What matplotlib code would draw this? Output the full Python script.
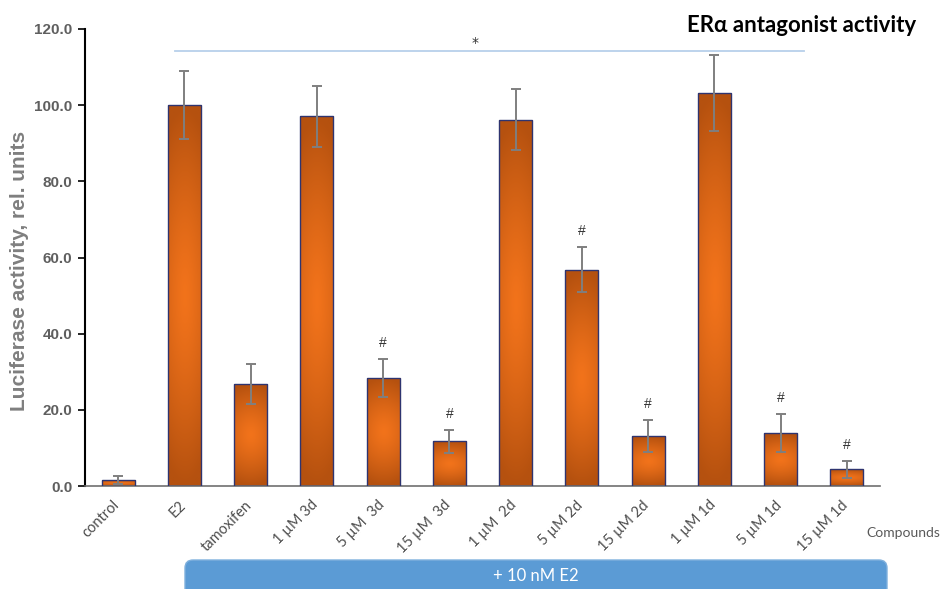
import numpy as np
import matplotlib
matplotlib.use('Agg')
import matplotlib.pyplot as plt
from matplotlib.patches import Rectangle, FancyBboxPatch
from matplotlib.colors import to_rgb
import matplotlib.transforms as mtransforms

# luciferase readout per treatment, mean and error
labels = ['control', 'E2', 'tamoxifen', '1 µM 3d', '5 µM  3d', '15 µM  3d',
          '1 µM  2d', '5 µM 2d', '15 µM 2d', '1 µM 1d', '5 µM 1d', '15 µM 1d']
means = [1.5, 100.0, 26.8, 97.1, 28.4, 11.7, 96.2, 56.8, 13.1, 103.2, 13.9, 4.4]
errs = [1.0, 9.0, 5.3, 8.0, 5.0, 3.1, 8.0, 5.9, 4.2, 10.0, 5.0, 2.2]
hash_marks = [False, False, False, False, True, True, False, True, True, False, True, True]
yticks = [0, 20, 40, 60, 80, 100, 120]

W, H = 944, 589
fig = plt.figure(figsize=(W / 100, H / 100), dpi=100)
ax = fig.add_axes([85 / W, 1 - 486 / H, (880 - 85) / W, (486 - 29) / H])
ax.patch.set_alpha(0)

dark = np.array(to_rgb('#b5510f'))
bright = np.array(to_rgb('#f2731b'))

def gradient_img(n=64):
    yy, xx = np.mgrid[-1:1:n * 1j, -1:1:n * 1j]
    t = np.sqrt(yy ** 2 + (0.45 * xx) ** 2)
    t = np.clip(t, 0, 1) ** 1.3
    return bright[None, None, :] * (1 - t[..., None]) + dark[None, None, :] * t[..., None]

img = gradient_img()
bw = 0.5
for i, (m, e) in enumerate(zip(means, errs)):
    rect = Rectangle((i - bw / 2, 0), bw, m, facecolor='none',
                     edgecolor='#2e3470', linewidth=1.0, zorder=3)
    ax.add_patch(rect)
    im = ax.imshow(img, extent=(i - bw / 2, i + bw / 2, 0, m), aspect='auto',
                   zorder=2, interpolation='bilinear')
    im.set_clip_path(rect)
    ax.errorbar(i, m, yerr=e, fmt='none', ecolor='#7f7f7f', elinewidth=1.4,
                capsize=3.5, capthick=1.4, zorder=4)
    if hash_marks[i]:
        ax.text(i, m + e + 2.3, '#', ha='center', va='bottom', fontsize=10,
                color='#333333', family='Liberation Sans', zorder=5)

# significance bracket across the E2-treated groups
ax.plot([0.86, 10.35], [114.3, 114.3], color='#b8d0ea', lw=1.3, zorder=1,
        clip_on=False)
ax.text(5.38, 116.4, '*', ha='center', va='center', fontsize=10, color='#333333')

ax.set_xlim(-0.5, 11.5)
ax.set_ylim(0, 120)
ax.set_yticks(yticks)
ax.set_yticklabels(['%.1f' % v for v in yticks], fontsize=11, fontweight='bold',
                   color='#5f5f5f', family='Liberation Sans')
ax.tick_params(axis='y', direction='out', length=5, width=1.2, color='black', pad=4)
ax.set_xticks(range(len(labels)))
ax.set_xticklabels([])
ax.tick_params(axis='x', length=0)
for s in ['top', 'right']:
    ax.spines[s].set_visible(False)
ax.spines['left'].set_linewidth(1.5)
ax.spines['left'].set_color('black')
ax.spines['bottom'].set_linewidth(1.2)
ax.spines['bottom'].set_color('#6f6f6f')

offs = mtransforms.ScaledTranslation(4 / 100, -12 / 100, fig.dpi_scale_trans)
for i, lab in enumerate(labels):
    ax.text(i, 0, lab, rotation=45, ha='right', va='top', fontsize=10.5,
            color='#4d4d4d', family='Lato', transform=ax.transData + offs)

ax.set_ylabel('Luciferase activity, rel. units', fontsize=15, fontweight='bold',
              color='#7f7f7f', family='Liberation Sans')
ax.yaxis.set_label_coords((20 - 85) / (880 - 85), 0.47)
ax.yaxis.label.set_va('center')

# overlay in pixel units for the title, axis caption and treatment box
ov = fig.add_axes([0, 0, 1, 1], zorder=-1)
ov.set_xlim(0, W)
ov.set_ylim(H, 0)
ov.axis('off')
ov.text(687, 25, 'ERα antagonist activity', fontsize=16, fontweight='bold',
        family='Lato', color='black', va='center', ha='left')
ov.text(866, 533, 'Compounds', fontsize=10, family='Lato', color='#595959',
        va='center', ha='left')
box = FancyBboxPatch((185, 560), 702, 50, boxstyle='round,pad=0,rounding_size=8',
                     facecolor='#5b9bd5', edgecolor='#7fb0dd', linewidth=1.0)
ov.add_patch(box)
ov.text(493, 576, '+ 10 nM E2', fontsize=12, family='Lato', color='white',
        va='center', ha='left')

fig.savefig('out.png', dpi=100)
